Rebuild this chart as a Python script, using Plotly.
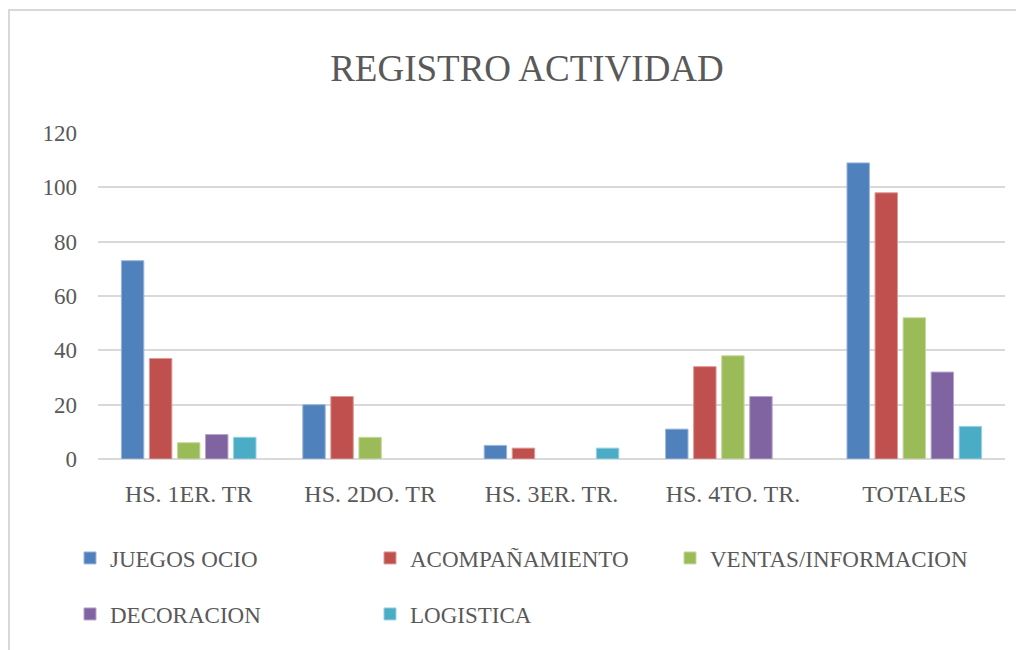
import plotly.graph_objects as go

categories = ["HS. 1ER. TR", "HS. 2DO. TR", "HS. 3ER. TR.", "HS. 4TO. TR.", "TOTALES"]
juegos_ocio = [73, 20, 5, 11, 109]
acompanamiento = [37, 23, 4, 34, 98]
ventas_informacion = [6, 8, 0, 38, 52]
decoracion = [9, 0, 0, 23, 32]
logistica = [8, 0, 4, 0, 12]

series_names = ["JUEGOS OCIO", "ACOMPAÑAMIENTO", "VENTAS/INFORMACION", "DECORACION", "LOGISTICA"]
series_values = [juegos_ocio, acompanamiento, ventas_informacion, decoracion, logistica]
colors = ["#4F81BD", "#C0504D", "#9BBB59", "#8064A2", "#4BACC6"]
edge_colors = ["#9DB6DB", "#DE9A98", "#C6DAA0", "#B6A5CC", "#99D2E1"]
legend_ids = ["legend", "legend", "legend", "legend2", "legend2"]

FONT = "Liberation Serif"
TXT = "#595959"

OFF = 8  # default page body margin
W, H = 1024 - OFF, 650 - OFF
# target plot area in page pixels: x 98..1005, y 133..459
PL, PR, PT, PB = 98, 1005, 133, 459
L, T = PL - OFF, PT - OFF
R = (W + OFF) - PR
B = (H + OFF) - PB
plot_w = PR - PL
plot_h = PB - PT

def px_x(p):
    return (p - PL) / plot_w

def px_y(p):
    return (PB - p) / plot_h

fig = go.Figure()
for name, vals, c, ec, lg in zip(series_names, series_values, colors, edge_colors, legend_ids):
    fig.add_trace(go.Bar(
        x=categories, y=vals, name=name,
        marker=dict(color=c, line=dict(color=ec, width=[1 if v > 0 else 0 for v in vals])),
        legend=lg,
    ))

legend_common = dict(
    orientation="h",
    font=dict(family=FONT, size=23, color=TXT),
    entrywidth=255, entrywidthmode="pixels",
    bgcolor="rgba(0,0,0,0)",
    xanchor="left", yanchor="middle",
    itemclick=False, itemdoubleclick=False,
)

fig.update_layout(
    width=W, height=H,
    margin=dict(l=L, r=R, t=T, b=B),
    paper_bgcolor="white", plot_bgcolor="white",
    title=dict(text="REGISTRO ACTIVIDAD", x=(527 - OFF) / W, xanchor="center",
               y=1 - (68 - OFF) / H, yanchor="middle",
               font=dict(family=FONT, size=37, color=TXT)),
    barmode="group", bargap=0.227, bargroupgap=0.2,
    xaxis=dict(tickfont=dict(family=FONT, size=24, color=TXT),
               showgrid=False, showline=False, ticks="",
               ticklabelstandoff=18),
    yaxis=dict(range=[0, 120], dtick=20, tickfont=dict(family=FONT, size=23, color=TXT),
               showgrid=True, gridcolor="#D9D9D9", gridwidth=2,
               zeroline=True, zerolinecolor="#D9D9D9", zerolinewidth=2,
               showline=False, ticks="", ticklabelstandoff=20),
    legend=dict(x=px_x(70), y=px_y(558), **legend_common),
    legend2=dict(x=px_x(70), y=px_y(614), **legend_common),
    shapes=[dict(type="rect", xref="paper", yref="paper",
                 x0=px_x(9), x1=px_x(1040), y0=px_y(670), y1=px_y(10),
                 line=dict(color="#D9D9D9", width=2), layer="below")],
    showlegend=True,
)

fig.write_html("out.html")
